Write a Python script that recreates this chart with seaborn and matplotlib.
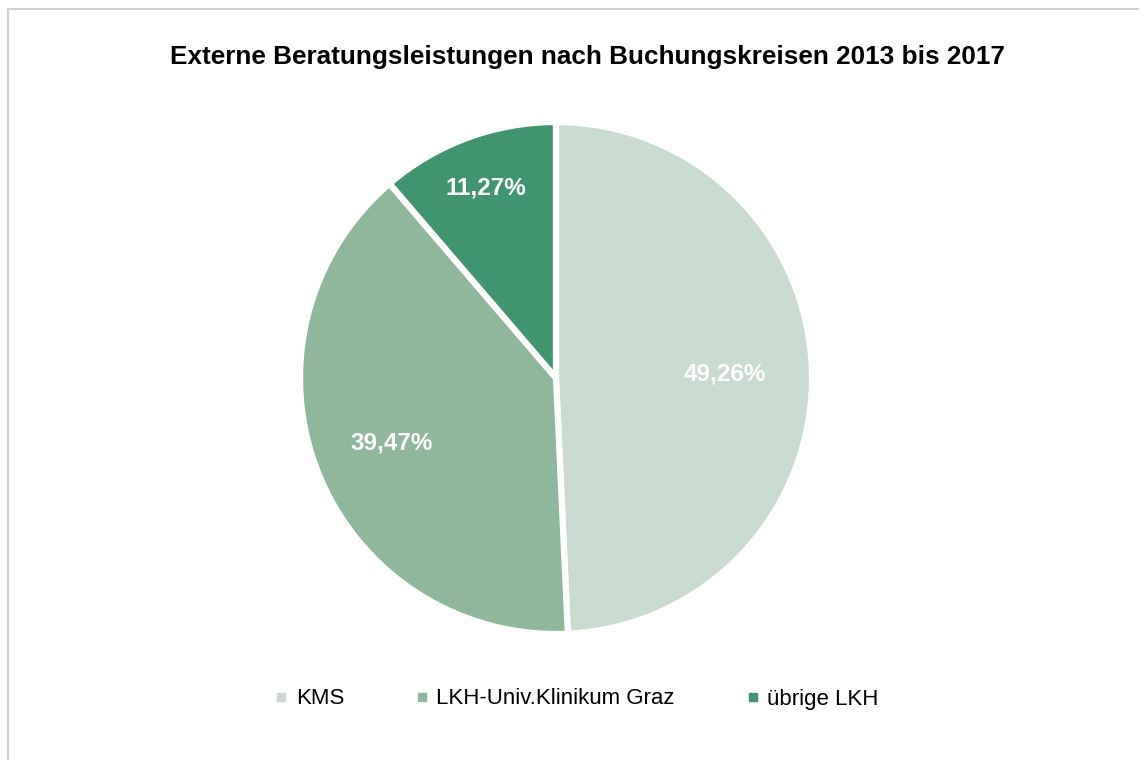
import numpy as np
import matplotlib
matplotlib.use("Agg")
import matplotlib.pyplot as plt
import seaborn as sns
from matplotlib.lines import Line2D

categories = ["KMS", "LKH-Univ.Klinikum Graz", "übrige LKH"]
values = [49.26, 39.47, 11.27]
labels = ["49,26%", "39,47%", "11,27%"]
colors = ["#C9DBD0", "#8FB79B", "#409470"]
label_dist = [0.66, 0.69, 0.79]

sns.set_theme(style="white")
plt.rcParams['font.family'] = ['Liberation Sans Narrow', 'Liberation Sans', 'DejaVu Sans']

fig = plt.figure(figsize=(11.39, 7.60), dpi=100)
W, H = 1139, 760
cx, cy, r = 556, 760 - 378, 256
ax = fig.add_axes([(cx - r) / W, (cy - r) / H, 2 * r / W, 2 * r / H])

wedges, _ = ax.pie(values, colors=colors, startangle=90, counterclock=False,
                   wedgeprops=dict(edgecolor="white", linewidth=4.5))
ax.set_xlim(-1, 1)
ax.set_ylim(-1, 1)
ax.set_aspect("auto")
ax.axis("off")

for w, lab, d in zip(wedges, labels, label_dist):
    ang = np.deg2rad((w.theta1 + w.theta2) / 2)
    ax.text(d * np.cos(ang), d * np.sin(ang), lab, ha="center", va="center",
            color="white", fontsize=17.5, fontweight="bold")

fig.text(587 / W, 1 - 57 / H, "Externe Beratungsleistungen nach Buchungskreisen 2013 bis 2017",
         ha="center", va="center", fontsize=18.8, fontweight="bold", color="black")

handles = [Line2D([], [], marker="s", linestyle="none", markersize=6,
                  markerfacecolor=c, markeredgecolor=c) for c in colors]
fig.legend(handles, categories, loc="center", bbox_to_anchor=(577 / W, 1 - 699 / H),
           ncol=3, frameon=False, fontsize=16, handlelength=0.5, handletextpad=0.4,
           columnspacing=3.25, labelcolor="black")

fig.add_artist(Line2D([8 / W, 8 / W], [0, 1 - 9 / H], transform=fig.transFigure,
                      color="#D0D0D0", linewidth=1.5))
fig.add_artist(Line2D([8 / W, 1], [1 - 9 / H, 1 - 9 / H], transform=fig.transFigure,
                      color="#D0D0D0", linewidth=1.5))

fig.savefig("out.png", dpi=100, facecolor="white")
